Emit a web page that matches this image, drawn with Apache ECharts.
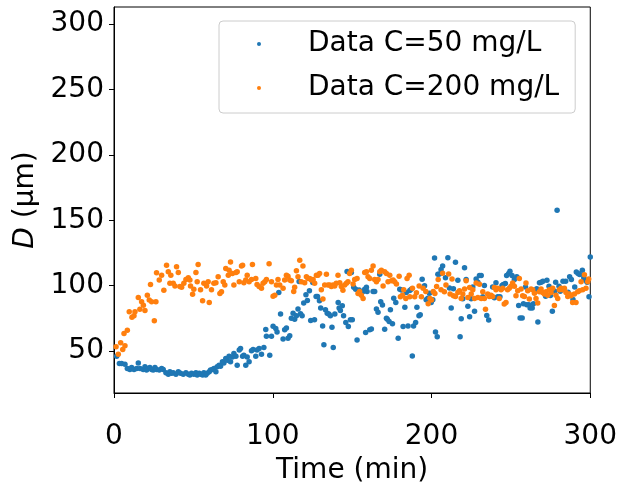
<!DOCTYPE html>
<html>
<head>
<meta charset="utf-8">
<style>
  html, body { margin: 0; padding: 0; background: #fff; }
  #chart { width: 620px; height: 493px; }
</style>
<script src="https://cdn.jsdelivr.net/npm/echarts@6/dist/echarts.min.js"></script>
</head>
<body>
<div id="chart"></div>
<script>
// [time (min), D (um)]
var dataC50 = [
  [1.7,46],[3.4,40.6],[4.8,40.6],[6.9,40],[8.4,36.8],[10,36],[11.1,37.5],[12.6,36],[14.3,36.8],[15.3,41],
  [16.4,36.8],[18.4,36],[19.5,38],[20.5,35.6],[21.6,36.8],[22.6,37.5],[23.7,36],[24.7,35.6],[25.8,37.5],[26.8,36],
  [28.5,35.6],[30,36.8],[31,36],[32.7,33.5],[34.2,32.4],[35.2,34.2],[36.3,33],[37.3,33.5],[39,32.4],[40.5,34.2],
  [41.9,33],[43.6,32.4],[45.3,33.5],[46.8,32.4],[47.8,31.7],[48.8,33],[50.3,32.4],[51.6,33.5],[52.4,31.7],[53.7,33],
  [54.5,32.4],[55.8,31.7],[56.6,33.5],[57.8,31.7],[58.7,33],[60,34.2],[60.8,35.6],[62,36],[63,36.8],[64.2,34.2],
  [65,38],[66.2,39.3],[67.1,38.5],[68.3,41.8],[69.2,41],[70.4,44.3],[71.3,43],[72.5,46.1],[73.4,41.8],[74.6,45.6],
  [75.5,48.2],[76.8,46.1],[77.6,39.3],[78.9,50.8],[79.7,52],[81,46.1],[81.8,46.9],[83,39.3],[83.9,45.6],[85.1,41.8],
  [86.6,50.3],[87.6,51.3],[89.3,46.1],[90.1,50.8],[91.4,52],[92.9,47.7],[94.4,52.8],[95.6,66.5],[96,61.4],[98.1,46.9],
  [99.2,61.4],[100.2,69.1],[101.9,67.3],[102.7,64.7],[103.8,94.9],[104.9,78.3],[106.5,59.2],[107.5,66.3],[108.6,67.6],[109.6,59.9],
  [110.7,61.7],[111.7,75.2],[112.8,79],[113.8,74.4],[114.9,77],[115.9,82.2],[116.6,103.3],[117.5,78.5],[118.5,77],[119.5,86.7],
  [120.9,93.1],[121.8,88.7],[123.1,96.1],[123.9,73.4],[125.2,102.5],[126.3,73.9],[127.3,91.8],[128.2,91.8],[129.4,88.5],[130.2,82.9],
  [131.4,69.3],[132.2,54.8],[133.2,81.6],[134.3,79],[135.3,78.3],[136.3,77],[137.3,68.3],[138.1,52.8],[139.1,78.3],[141.2,87.2],
  [141.8,82.9],[142.6,81.1],[143.8,84.6],[144.6,77],[146,71.9],[146.8,110.9],[147.6,68.8],[148.9,73.9],[149.5,110.1],[150.1,73.9],
  [151,98.9],[152.2,97.3],[153.1,58.6],[154.4,96.8],[155.8,93.1],[156.9,95.5],[157.9,97.3],[158.5,64.2],[159,98.9],[159.4,95.5],
  [161.1,66.3],[162.1,67],[163.2,95.5],[164.2,95.5],[165.3,82.2],[166.3,79.7],[167.4,108.7],[168,87.7],[169.1,85.2],[170.5,66.8],
  [171.6,75.2],[172.2,74.4],[173.3,72.7],[174.1,81.6],[175.4,70.9],[176.2,90.5],[177.5,87.2],[179,59.9],[180,97.3],[181,96.8],
  [182.1,68.8],[183.2,83.6],[184.1,94.9],[185.2,69.3],[186.3,96.3],[187.2,97.3],[187.9,46.3],[188.7,69.3],[190,71.9],[190.8,83.6],
  [192.1,77],[192.9,77.8],[194.1,105],[195.6,99.9],[196.6,89.3],[197.7,90.5],[198.7,94.3],[199.8,87.2],[200.8,89.3],[201.9,121.1],
  [202.5,64.7],[203.6,60.9],[204,108.7],[205,108.9],[206,112.4],[207,115],[208.8,106],[210.3,121.3],[211.3,98.3],[212.4,83],
  [213.8,97.6],[215.1,118],[216.6,104.2],[218,60.9],[218.7,74.7],[219.7,90],[220.8,113.7],[221.8,104.7],[222.9,84.3],[224,76.2],
  [225,90],[226,99.1],[227.1,80.5],[228.1,105.2],[229.2,102.7],[230.2,107.8],[231.3,107.8],[232.3,91.5],[233.3,100.1],[234.8,77.2],
  [236,73.7],[237.5,92],[238.5,99.1],[239.6,90.7],[240.6,102.2],[241.7,91.5],[243.1,91.5],[244.4,100.1],[245.2,100.9],[246.5,101.7],
  [247.3,107.8],[248.6,109.4],[249.4,111.1],[250.7,107.8],[252.2,104.7],[253.7,106.8],[254.9,84.8],[255.8,75.4],[257.1,75.4],[257.9,86.3],
  [259.2,99.1],[260,85.5],[261.3,85.5],[262.1,83],[263.4,83],[264.2,86.3],[265.5,96.5],[266.3,97.6],[267,72.2],[268,102.2],
  [269.1,102.7],[270.2,103.4],[271.9,92],[272.7,104.2],[274,99.6],[274.9,92.5],[276.1,80.5],[277.6,95.8],[278.2,102.7],[279.1,157.7],
  [280.3,99.6],[281.1,95.8],[282.8,103.4],[284.5,103.4],[286,95],[287,106.8],[288.1,104.7],[289.1,89.5],[290.2,99.1],[291.2,110.4],
  [292.3,109.4],[293.3,108.6],[295,111.9],[295.9,106],[297.1,104.2],[298,102.7],[299.2,91.5],[300,122]
];

var dataC200 = [
  [1.3,53.3],[2.7,47.7],[4.2,56.4],[5.5,51.3],[6.3,63.5],[6.9,54.1],[8.4,66],[9.6,80],[11.3,75.8],[12.6,77],
  [13.2,80],[15.3,91],[16.3,82],[17.4,87.7],[18.5,85],[19.5,81],[21,92.8],[22.2,89],[23,101],[23.7,87.7],
  [25.4,73.2],[26.4,87.7],[26.8,109.9],[28.5,104.3],[30,108],[31.4,96.6],[33.1,115.7],[34.2,110.6],[35.2,101.8],[35.8,108],
  [37.3,101.8],[38.4,99.8],[39.4,114.5],[40.5,110],[41.5,99.3],[42.6,98.8],[44,101.8],[45.3,104.8],[46.8,106],[47.8,104.3],
  [48.2,99.8],[49.5,93.4],[50.3,97.3],[51.6,110],[52.4,103],[53,116.2],[54.5,97],[55.8,88.5],[56.6,101.8],[58.3,99.8],
  [59.3,103],[60,87.2],[61.4,97],[62.9,101.8],[64.2,102.3],[65.6,106.8],[66.7,94],[67.7,95.3],[68.8,103],[69.8,100.6],
  [70.4,113.2],[72,108],[72.5,111.9],[73.4,118.2],[74.6,109.3],[75.5,100.6],[76.8,110],[77.6,110.6],[78.9,103],[80.3,115],
  [81,115.7],[81.8,102.3],[83,104.3],[83.9,108],[85.1,103],[86.6,104.8],[87.2,116.2],[89.3,105.5],[90.1,101],[91.4,99.3],
  [92.9,98],[93.9,101.8],[95,103],[96,104.8],[97.7,116.8],[99.2,103],[100.2,92],[101.3,92.8],[102.3,100.6],[103.3,104.8],
  [104.4,100.6],[106.5,98],[107.5,104.3],[108.6,108],[109.6,107.3],[110.7,104.3],[111.7,103.8],[113.2,95.5],[113.8,98.8],[114.9,111.5],
  [115.9,106.8],[117,119.5],[118,103],[119,115],[120.1,102.3],[121.2,106.8],[122.2,105.5],[123.3,105.5],[124.3,104.3],[125.4,104.8],
  [126.4,101.8],[127.5,108],[128.5,108],[129.5,109.3],[130.6,97],[131.6,89.8],[132.7,100.6],[133.8,108.8],[134.8,100.6],[135.9,100.6],
  [136.9,99.3],[138,100.6],[139,99.8],[140,101.8],[141.1,108],[142.2,102.3],[143.2,99.3],[144.2,96.6],[145.3,100.6],[146.4,101.8],
  [147.4,103],[148.4,109.3],[149.5,111.9],[150.6,101.3],[151.6,104.8],[153.1,105.5],[153.7,94],[154.7,95.5],[155.8,92.8],[156.9,90.2],
  [157.9,110],[159,110.6],[160,106.8],[161.1,105.5],[162.1,111.9],[163.2,115],[164.2,104.8],[165.3,103],[166.3,104.8],[167.4,110.6],
  [168.4,111.9],[169.5,99.8],[170.5,110.6],[171.6,109.3],[172.6,103],[173.7,108],[174.8,103.8],[175.8,104.3],[176.8,103],[177.9,101.3],
  [179.6,107.3],[180.4,91.5],[181.7,92.8],[182.5,97],[183.8,90.2],[184.6,105.5],[185.9,108],[186.3,91.5],[188,98],[189.4,91.5],
  [190.5,94.6],[192.2,99.8],[193.6,91.5],[194.7,98],[196.4,95.5],[197.9,86.3],[199,90.2],[200,89],[201.1,95.5],[202.1,94],
  [203.2,99.3],[204.2,104.8],[206,96.9],[207,109.6],[208.1,95.4],[209.1,100.5],[210.8,108.9],[211.7,93.6],[212.9,105.1],[213.8,92.3],
  [215.1,91.8],[216.6,94.9],[217.6,96.2],[218.7,90.3],[219.7,93.6],[220.8,97.4],[221.8,103.8],[222.9,91],[224,98.7],[225,93.6],
  [226,96.9],[227.1,90.3],[228.1,102],[229.2,91],[230.2,101.2],[231.3,90.3],[232.3,95.4],[233.3,90.3],[234,82.1],[235.4,93.6],
  [236.4,91.8],[237.5,92.8],[238.5,91.8],[239.6,98.7],[240.6,96.9],[241.7,98],[242.7,90.3],[243.8,96.9],[244.8,98],[245.8,86],
  [246.9,87.2],[247.9,96.9],[249,98],[250,99.5],[251.1,102],[252.2,99.5],[253.2,92.3],[254.3,96.2],[255.3,105.6],[256.4,97.4],
  [257.4,92.3],[258.5,91.8],[259.5,102],[260.6,96.2],[261.6,89.8],[262.7,97.4],[263.7,96.9],[264.8,94.3],[265.8,90.3],[266.9,86.7],
  [267.9,95.4],[269,97.4],[270,94.9],[271.1,93.6],[272.1,95.4],[273.2,92.8],[274.2,96.9],[275.3,94.9],[276.3,98],[277.4,84.8],
  [278.4,92.8],[279.5,90.3],[280.5,96.9],[281.6,98],[282.6,96.9],[283.7,98],[284.7,94.9],[285.8,91.8],[286.8,93.6],[287.9,92.3],
  [288.9,87.2],[290,93.6],[291,87.2],[292.1,95.4],[293.1,96.2],[294.2,103.1],[295.2,96.9],[296.3,108.4],[297.3,98],[298.4,103.1],
  [299,105.1]
];

var seriesNames = ['Data C=50 mg/L', 'Data C=200 mg/L'];
var seriesColors = ['#1f77b4', '#ff7f0e'];
var xTicks = [0, 100, 200, 300];
var yTicks = [50, 100, 150, 200, 250, 300];

var font = 'DejaVu Sans';
var chart = echarts.init(document.getElementById('chart'), null, { renderer: 'canvas' });

var option = {
  animation: false,
  backgroundColor: '#fff',
  grid: {
    left: 114, right: 29, top: 7, bottom: 100,
    show: true, borderColor: '#000', borderWidth: 1, backgroundColor: 'transparent'
  },
  legend: {
    orient: 'vertical',
    left: 219, top: 21,
    padding: [9, 16, 11, 38],
    itemGap: 16,
    itemWidth: 88,
    itemHeight: 4,
    icon: 'circle',
    borderColor: '#cccccc',
    borderWidth: 1,
    borderRadius: 4,
    backgroundColor: 'rgba(255,255,255,0.8)',
    textStyle: { fontFamily: font, fontSize: 28, lineHeight: 26, color: '#000' },
    data: seriesNames
  },
  xAxis: {
    type: 'value',
    min: 0, max: 300, interval: 100,
    name: 'Time (min)',
    nameLocation: 'middle',
    nameGap: 64,
    nameTextStyle: { fontFamily: font, fontSize: 28, color: '#000' },
    axisLine: { show: true, onZero: false, lineStyle: { color: '#000', width: 1 } },
    axisTick: { show: true, length: 5, inside: false, lineStyle: { color: '#000' }, customValues: xTicks },
    axisLabel: { fontFamily: font, fontSize: 28, color: '#000', margin: 30, lineHeight: 28, customValues: xTicks },
    splitLine: { show: false }
  },
  yAxis: {
    type: 'value',
    min: 18, max: 313,
    name: '{i|D} (µm)',
    nameLocation: 'middle',
    nameGap: 72,
    nameRotate: 90,
    nameTextStyle: {
      fontFamily: font, fontSize: 28, color: '#000',
      rich: { i: { fontFamily: font, fontSize: 28, fontStyle: 'italic', color: '#000' } }
    },
    axisLine: { show: true, onZero: false, lineStyle: { color: '#000', width: 1 } },
    axisTick: { show: true, length: 5, inside: false, lineStyle: { color: '#000' }, customValues: yTicks },
    axisLabel: { fontFamily: font, fontSize: 28, color: '#000', margin: 10, customValues: yTicks },
    splitLine: { show: false }
  },
  series: [
    {
      name: seriesNames[0], type: 'scatter', data: dataC50,
      symbol: 'circle', symbolSize: 5.5,
      itemStyle: { color: seriesColors[0], opacity: 1 }
    },
    {
      name: seriesNames[1], type: 'scatter', data: dataC200,
      symbol: 'circle', symbolSize: 5.5,
      itemStyle: { color: seriesColors[1], opacity: 1 }
    }
  ]
};

chart.setOption(option);
</script>
</body>
</html>
